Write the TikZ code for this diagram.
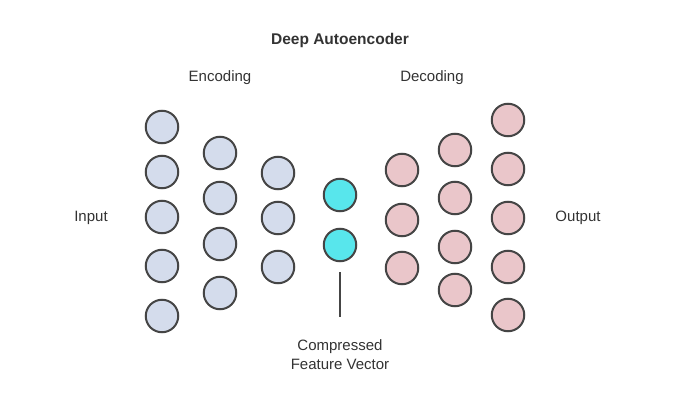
\documentclass[tikz,border=0pt]{standalone}
\usepackage{fontspec}
\setmainfont{Liberation Sans}
\definecolor{encfill}{HTML}{D4DCEC}
\definecolor{decfill}{HTML}{EAC6CA}
\definecolor{codefill}{HTML}{58E6EC}
\definecolor{ringcol}{HTML}{454545}
\definecolor{txtcol}{HTML}{333333}
\tikzset{
  neuron/.style={circle, draw=ringcol, line width=2pt, minimum size=32.5pt, inner sep=0pt},
  enc/.style={neuron, fill=encfill},
  dec/.style={neuron, fill=decfill},
  code/.style={neuron, fill=codefill},
  lbl/.style={text=txtcol, font=\fontsize{15}{18}\selectfont, inner sep=0pt},
}
\begin{document}
\begin{tikzpicture}[x=1pt,y=-1pt]
\useasboundingbox[fill=white] (0,0) rectangle (684,403);
\node[lbl, font=\fontsize{15.5}{18}\selectfont\bfseries] (title) at (340,40) {Deep Autoencoder};
\node[lbl] (encl) at (220,78) {Encoding};
\node[lbl] (decl) at (432,78) {Decoding};
\node[lbl] (inl) at (91,218) {Input};
\node[lbl] (outl) at (578,218) {Output};
\foreach \y [count=\i] in {127,172,217,266,316} \node[enc] (a\i) at (162,\y) {};
\foreach \y [count=\i] in {153,198,244,293} \node[enc] (b\i) at (220,\y) {};
\foreach \y [count=\i] in {173,218,267} \node[enc] (c\i) at (278,\y) {};
\foreach \y [count=\i] in {195,245} \node[code] (z\i) at (340,\y) {};
\foreach \y [count=\i] in {170,220,268} \node[dec] (d\i) at (402,\y) {};
\foreach \y [count=\i] in {150,198,247,290} \node[dec] (e\i) at (455,\y) {};
\foreach \y [count=\i] in {120,169,218,267,315} \node[dec] (f\i) at (508,\y) {};
\node[lbl, align=center, font=\fontsize{15}{19}\selectfont] (cfv) at (340,355) {Compressed\\Feature Vector};
\coordinate (ltop) at (340,272);
\coordinate (lbot) at (340,317);
\draw[ringcol, line width=1.8pt] (ltop) -- (lbot);
\end{tikzpicture}
\end{document}
